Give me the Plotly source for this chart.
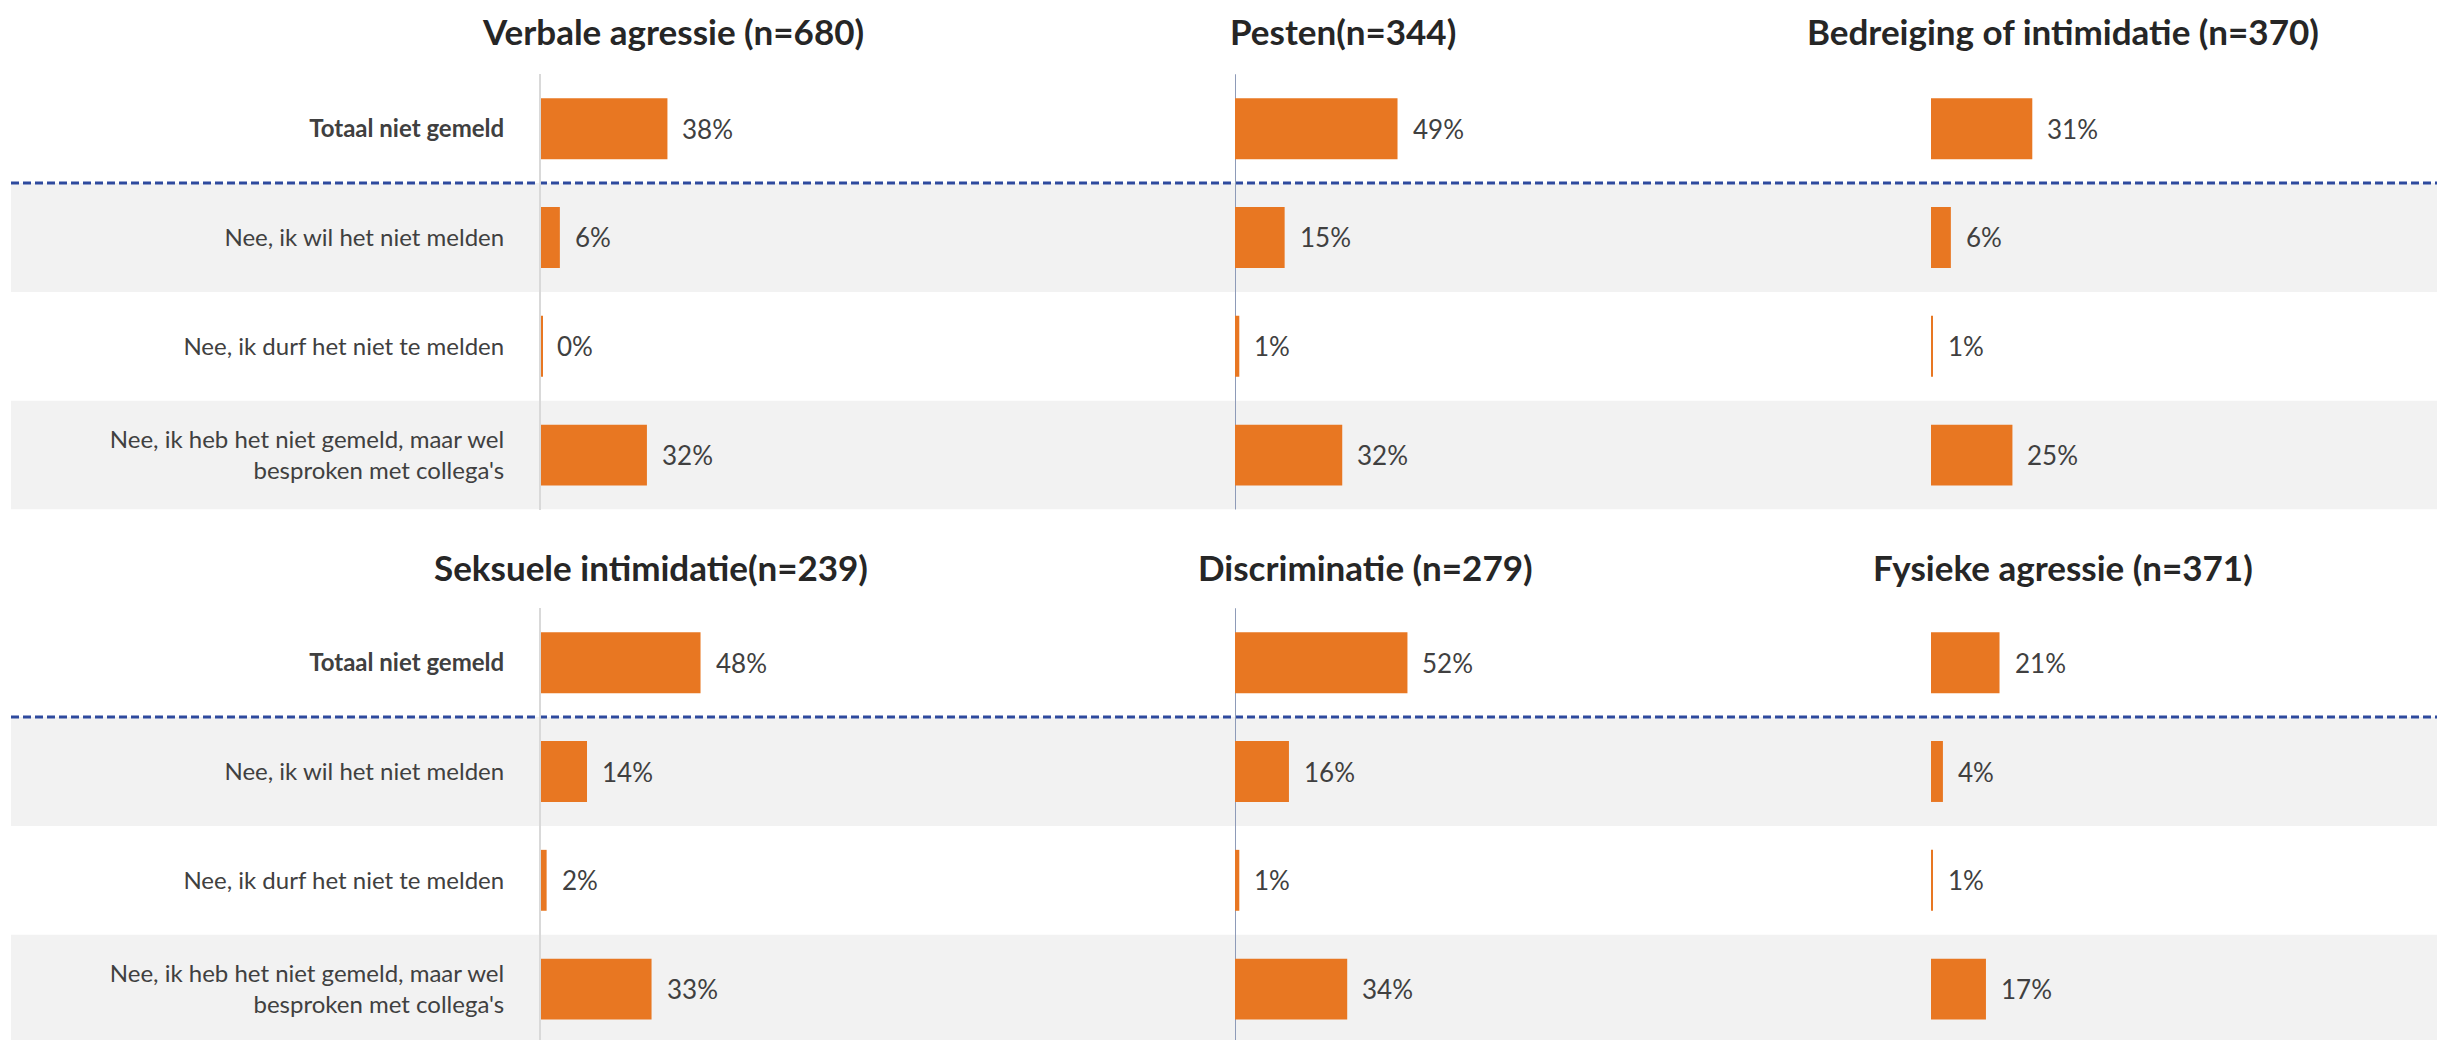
import plotly.graph_objects as go

W, H = 2445, 1040
OFF = 8  # page body margin compensation (page px = figure px + OFF)

categories = [
    "<b>Totaal niet gemeld</b>",
    "Nee, ik wil het niet melden",
    "Nee, ik durf het niet te melden",
    "Nee, ik heb het niet gemeld, maar wel<br>besproken met collega's",
]

titles = [
    "Verbale agressie (n=680)",
    "Pesten(n=344)",
    "Bedreiging of intimidatie (n=370)",
    "Seksuele intimidatie(n=239)",
    "Discriminatie (n=279)",
    "Fysieke agressie (n=371)",
]

verbale_agressie = [38.2, 5.7, 0.4, 32.0]
pesten = [49.1, 15.0, 1.3, 32.4]
bedreiging = [30.6, 6.0, 0.6, 24.6]
seksuele_intimidatie = [48.2, 13.9, 1.7, 33.4]
discriminatie = [52.1, 16.3, 1.3, 33.9]
fysieke_agressie = [20.7, 3.6, 0.6, 16.6]

series = [verbale_agressie, pesten, bedreiging,
          seksuele_intimidatie, discriminatie, fysieke_agressie]

ORANGE = "#E87722"
FONT = "Lato"
TEXT = "#404040"
TITLE_COLOR = "#262626"

# layout geometry (page pixels)
col_x0 = [541, 1235, 1931]
col_w = 490
px_per_pct = 3.31
xmax = col_w / px_per_pct
title_x = [[673, 1343, 2063], [651, 1365, 2063]]
title_y = [31, 567]
unit = 108.8


def fx(px):
    return (px - OFF) / W


def fy(py):
    return 1 - (py - OFF) / H


top0 = 74.3
top1 = 608.3
row_dom = [(fy(top0 + 4 * unit), fy(top0)), (0.0, fy(top1))]
bottom_units = (H + OFF - top1) / unit
row_range = [[3.5, -0.5], [-0.5 + bottom_units, -0.5]]

fig = go.Figure()
rows_idx = list(range(len(categories)))

for i, vals in enumerate(series):
    r, c = divmod(i, 3)
    xa = "x" if i == 0 else f"x{i+1}"
    ya = "y" if r == 0 else "y2"
    fig.add_trace(go.Bar(
        x=vals, y=rows_idx, orientation="h",
        xaxis=xa, yaxis=ya, marker=dict(color=ORANGE, line=dict(width=0)),
        width=0.56, hoverinfo="skip", showlegend=False,
    ))
    for k, v in enumerate(vals):
        fig.add_annotation(
            x=v, y=k, xref=xa, yref=ya, text=f"{round(v)}%",
            showarrow=False, xanchor="left", yanchor="middle", xshift=13,
            font=dict(family=FONT, size=26, color=TEXT),
        )
    axis_key = "xaxis" if i == 0 else f"xaxis{i+1}"
    fig.layout[axis_key] = dict(
        domain=[fx(col_x0[c]), fx(col_x0[c] + col_w)],
        range=[0, xmax], anchor=ya, visible=False, fixedrange=True,
    )
    fig.add_annotation(
        x=fx(title_x[r][c]), y=fy(title_y[r]), xref="paper", yref="paper",
        text=f"<b>{titles[i]}</b>", showarrow=False,
        xanchor="center", yanchor="middle",
        font=dict(family=FONT, size=35, color=TITLE_COLOR),
    )

for r in range(2):
    ykey = "yaxis" if r == 0 else "yaxis2"
    fig.layout[ykey] = dict(
        domain=list(row_dom[r]), range=row_range[r],
        anchor="x" if r == 0 else "x4",
        tickmode="array", tickvals=rows_idx, ticktext=categories,
        ticks="outside", ticklen=30, tickcolor="rgba(0,0,0,0)",
        showline=True, linecolor="#D9D9D9", linewidth=2,
        showgrid=False, zeroline=False, automargin=False,
        tickfont=dict(family=FONT, size=24, color=TEXT), fixedrange=True,
    )

shapes = []
for r in range(2):
    ya = "y" if r == 0 else "y2"
    for k in (1, 3):
        shapes.append(dict(type="rect", xref="paper", yref=ya,
                           x0=fx(11), x1=1, y0=k - 0.5, y1=k + 0.5,
                           fillcolor="#F2F2F2", line=dict(width=0), layer="below"))
    shapes.append(dict(type="line", xref="paper", yref=ya,
                       x0=fx(11), x1=1, y0=0.5, y1=0.5,
                       line=dict(color="#2E4A9E", width=3, dash="8px,4px"),
                       layer="below"))
    xa = "x2" if r == 0 else "x5"
    shapes.append(dict(type="line", xref=xa, yref=f"{ya} domain",
                       x0=0, x1=0, y0=0, y1=1,
                       line=dict(color="#8E9BB8", width=2), layer="below"))

fig.update_layout(
    width=W, height=H, margin=dict(l=0, r=0, t=0, b=0),
    paper_bgcolor="white", plot_bgcolor="rgba(0,0,0,0)",
    shapes=shapes, bargap=0.44, font=dict(family=FONT, color=TEXT),
)

fig.write_html("out.html", config={"displayModeBar": False})
